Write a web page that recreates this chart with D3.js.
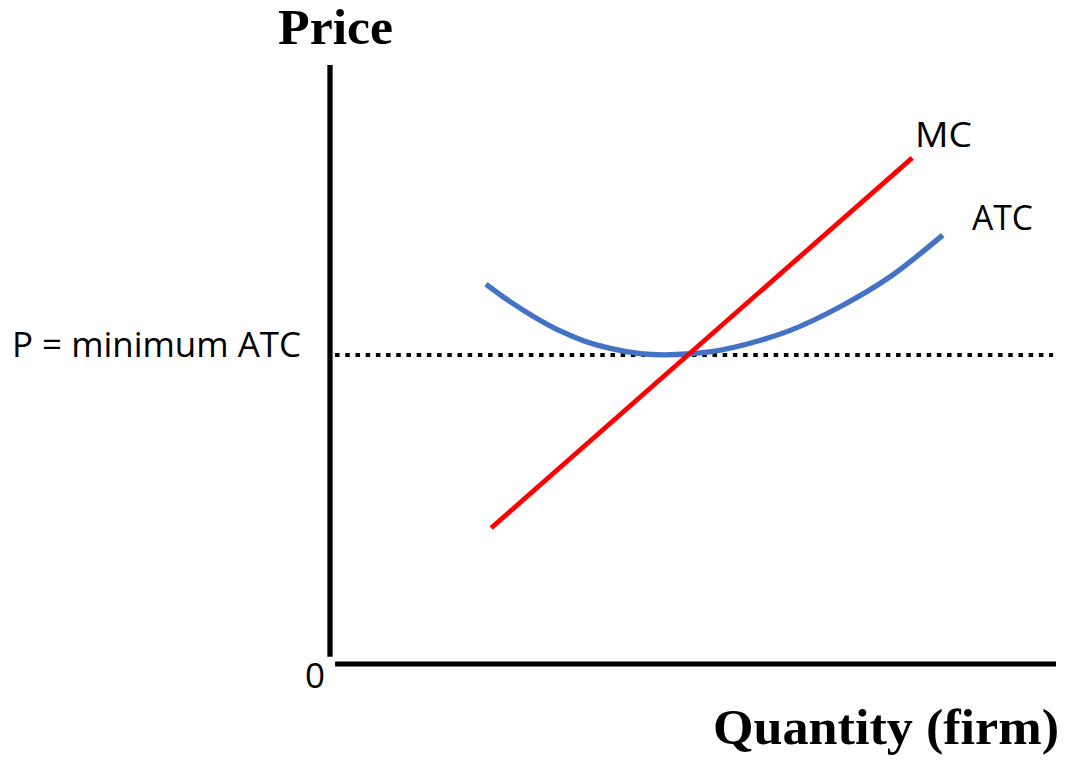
<!DOCTYPE html>
<html>
<head>
<meta charset="utf-8">
<script src="https://cdn.jsdelivr.net/npm/d3@7"></script>
<style>
  html, body { margin: 0; padding: 0; background: #fff; }
  svg { display: block; }
</style>
</head>
<body>
<svg id="chart" width="1079" height="763"></svg>
<script>
// ---- data (in chart units: quantity 0..100, price 0..100) ----
const mcQ = [22.2, 80.2];
const mcP = [22.7, 84.5];
const atcQ = [21.5, 24.8, 28.2, 31.7, 35.1, 38.6, 46.1, 52.3, 59.2, 63.4, 70.2, 77.1, 84.4];
const atcP = [63.4, 60.5, 57.9, 55.6, 53.9, 52.7, 51.6, 52.1, 54.0, 55.7, 59.6, 64.6, 71.6];
const priceLevel = 51.6;
const priceLineQ = [0.7, 99.6];
const labels = { y: "Price", x: "Quantity (firm)", origin: "0", price: "P = minimum ATC", mc: "MC", atc: "ATC" };

const svg = d3.select("#chart");
const x = d3.scaleLinear().domain([0, 100]).range([330, 1056]);
const y = d3.scaleLinear().domain([0, 100]).range([664, 65]);

// axes
svg.append("line").attr("x1", x(0)).attr("x2", x(0)).attr("y1", y(100)).attr("y2", y(1.2))
  .attr("stroke", "#000").attr("stroke-width", 5.3);
svg.append("line").attr("x1", x(0.7)).attr("x2", x(100)).attr("y1", y(0)).attr("y2", y(0))
  .attr("stroke", "#000").attr("stroke-width", 5);

// dotted price line
svg.append("line")
  .attr("x1", x(priceLineQ[0])).attr("x2", x(priceLineQ[1]))
  .attr("y1", y(priceLevel)).attr("y2", y(priceLevel))
  .attr("stroke", "#000").attr("stroke-width", 4)
  .attr("stroke-dasharray", "4.5 5.7");

// ATC curve
const atcData = atcQ.map((q, i) => [q, atcP[i]]);
svg.append("path")
  .datum(atcData)
  .attr("fill", "none").attr("stroke", "#4472C4").attr("stroke-width", 5.3)
  .attr("d", d3.line().x(d => x(d[0])).y(d => y(d[1])).curve(d3.curveMonotoneX));

// MC line
const mcData = mcQ.map((q, i) => [q, mcP[i]]);
svg.append("path")
  .datum(mcData)
  .attr("fill", "none").attr("stroke", "#FF0000").attr("stroke-width", 4.8)
  .attr("d", d3.line().x(d => x(d[0])).y(d => y(d[1])));

// labels
const sans = "'Open Sans', 'Noto Sans', sans-serif";
const serif = "'Liberation Serif', 'DejaVu Serif', serif";

svg.append("text").text(labels.y)
  .attr("x", 278).attr("y", 44)
  .attr("font-family", serif).attr("font-weight", "bold").attr("font-size", 50)
  .attr("textLength", 115).attr("lengthAdjust", "spacingAndGlyphs");

svg.append("text").text(labels.x)
  .attr("x", 713).attr("y", 744)
  .attr("font-family", serif).attr("font-weight", "bold").attr("font-size", 50)
  .attr("textLength", 346).attr("lengthAdjust", "spacingAndGlyphs");

svg.append("text").text(labels.origin)
  .attr("x", 305).attr("y", 688)
  .attr("font-family", sans).attr("font-size", 35);

svg.append("text").text(labels.price)
  .attr("x", 12).attr("y", 357)
  .attr("font-family", sans).attr("font-size", 35)
  .attr("textLength", 289).attr("lengthAdjust", "spacingAndGlyphs");

svg.append("text").text(labels.mc)
  .attr("x", 915).attr("y", 147)
  .attr("font-family", sans).attr("font-size", 35)
  .attr("textLength", 57).attr("lengthAdjust", "spacingAndGlyphs");

svg.append("text").text(labels.atc)
  .attr("x", 972).attr("y", 230)
  .attr("font-family", sans).attr("font-size", 35)
  .attr("textLength", 61).attr("lengthAdjust", "spacingAndGlyphs");
</script>
</body>
</html>
